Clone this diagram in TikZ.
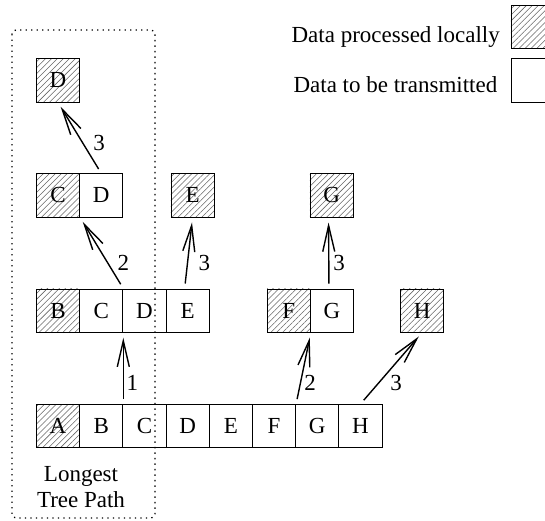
\documentclass[tikz,border=0pt]{standalone}
\usepackage{fontspec}
\setmainfont{Liberation Serif}
\usetikzlibrary{patterns.meta,arrows.meta}
\tikzset{
  cell/.style={draw, line width=0.9pt, inner sep=0pt, minimum width=43.2pt,
    minimum height=43.3pt, anchor=north west},
  local/.style={cell, pattern={Lines[angle=45,distance=4.2pt,line width=0.55pt]},
    pattern color=black!60},
  link/.style={line width=1.4pt, -{Straight Barb[length=26pt,width=12pt,line width=1.4pt]},
    shorten <=5pt, shorten >=5pt},
  hop/.style={inner sep=0pt},
}
\begin{document}
\begin{tikzpicture}[x=1pt, y=-1pt, font=\fontsize{23}{26}\selectfont]
\useasboundingbox (0,0) rectangle (545,520);
\clip (0,0) rectangle (545,520);

% legend
\node[local] (legL) at (510.7,5) {};
\node[cell]  (legT) at (510.7,58.3) {};
\node[anchor=base east, inner sep=0pt] (txtL) at (500,42.5) {Data processed locally};
\node[anchor=base east, inner sep=0pt] (txtT) at (497.5,92.5) {Data to be transmitted};

% longest tree path frame
\draw[line width=1.3pt, dash pattern=on 1.3pt off 4.2pt, rounded corners=4pt]
  (12,30) rectangle (155,518);
\node[align=center, inner sep=0pt] (lbl) at (81,487) {Longest\\Tree Path};

% bottom row
\node[local] (a1) at (36,404) {A};
\node[cell] (b1) at (79.2,404) {B};
\node[cell] (c1) at (122.4,404) {C};
\node[cell] (d1) at (165.6,404) {D};
\node[cell] (e1) at (208.8,404) {E};
\node[cell] (f1) at (252,404) {F};
\node[cell] (g1) at (295.2,404) {G};
\node[cell] (h1) at (338.4,404) {H};

% second row
\node[local] (b2) at (36,288.5) {B};
\node[cell] (c2) at (79.2,288.5) {C};
\node[cell] (d2) at (122.4,288.5) {D};
\node[cell] (e2) at (165.6,288.5) {E};
\node[local] (f2) at (266.7,288.5) {F};
\node[cell] (g2) at (309.9,288.5) {G};
\node[local] (h2) at (400,288.5) {H};

% third row
\node[local] (c3) at (36,173.3) {C};
\node[cell] (d3) at (79.2,173.3) {D};
\node[local] (e3) at (170.5,173.3) {E};
\node[local] (g3) at (309.5,173.3) {G};

% top
\node[local] (d4) at (36,58.3) {D};

% transfers
\draw[link] (b1.north east) -- (c2.south east);
\draw[link] (f1.north east) -- (f2.south east);
\draw[link] (h1.north) -- (h2.south);
\draw[link] (c2.north east) -- (c3.south east);
\draw[link] ([xshift=-3pt]e2.north) -- (e3.south);
\draw[link] ([xshift=-3pt]g2.north) -- ([xshift=-3pt]g3.south);
\draw[link] (d3.north) -- (d4.south);

% hop counts
\node[hop] (n1) at (132.3,383.3) {1};
\node[hop] (n2) at (310,383.3) {2};
\node[hop] (n3) at (396,383.3) {3};
\node[hop] (n4) at (123.3,263) {2};
\node[hop] (n5) at (204.3,263.3) {3};
\node[hop] (n6) at (339,263.3) {3};
\node[hop] (n7) at (99,142.7) {3};
\end{tikzpicture}
\end{document}
